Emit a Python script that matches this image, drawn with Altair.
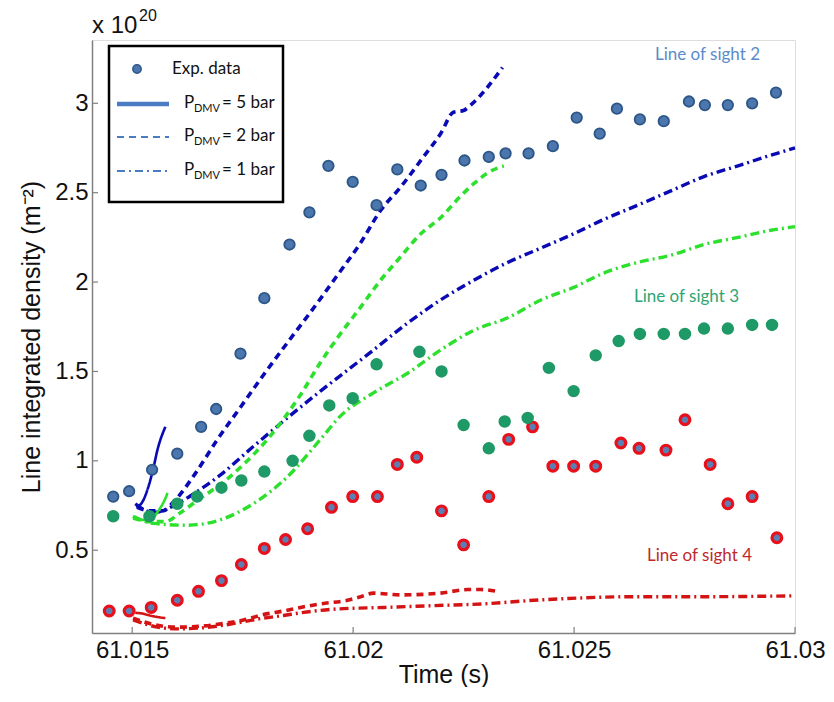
import altair as alt
import pandas as pd

# ---------------- experimental data (x 1e20 m^-2) ----------------
los2_t = [61.01457, 61.01493, 61.01545, 61.01602, 61.01656, 61.0169, 61.01745, 61.01799, 61.01856, 61.01901,
          61.01944, 61.01999, 61.02053, 61.021, 61.02153, 61.022, 61.02252, 61.02307, 61.02345, 61.02397,
          61.02452, 61.02506, 61.02558, 61.02597, 61.02649, 61.02703, 61.0276, 61.02796, 61.02848, 61.02903, 61.02957]
los2_y = [0.80, 0.83, 0.95, 1.04, 1.19, 1.29, 1.60, 1.91, 2.21, 2.39,
          2.65, 2.56, 2.43, 2.63, 2.54, 2.60, 2.68, 2.70, 2.72, 2.72,
          2.76, 2.92, 2.83, 2.97, 2.91, 2.90, 3.01, 2.99, 2.99, 3.00, 3.06]

los3_t = [61.01457, 61.01539, 61.01602, 61.01647, 61.01702, 61.01747, 61.01799, 61.01863, 61.01901, 61.01946,
          61.01999, 61.02053, 61.0215, 61.022, 61.0225, 61.02307, 61.02343, 61.02395, 61.02443, 61.02499,
          61.02549, 61.02601, 61.02649, 61.02703, 61.02751, 61.02794, 61.02848, 61.02903, 61.02948]
los3_y = [0.69, 0.69, 0.76, 0.80, 0.85, 0.89, 0.94, 1.00, 1.14, 1.31,
          1.35, 1.54, 1.61, 1.50, 1.20, 1.07, 1.22, 1.24, 1.52, 1.39,
          1.59, 1.67, 1.71, 1.71, 1.71, 1.74, 1.74, 1.76, 1.76]

los4_t = [61.01448, 61.01493, 61.01543, 61.01602, 61.0165, 61.01702, 61.01747, 61.01799, 61.01847, 61.01897,
          61.01951, 61.01999, 61.02055, 61.021, 61.02144, 61.022, 61.0225, 61.02307, 61.02352, 61.02406,
          61.02452, 61.02499, 61.02549, 61.02606, 61.02647, 61.02708, 61.02751, 61.02808, 61.02848, 61.02903, 61.02959]
los4_y = [0.16, 0.16, 0.18, 0.22, 0.27, 0.33, 0.42, 0.51, 0.56, 0.62,
          0.74, 0.80, 0.80, 0.98, 1.02, 0.72, 0.53, 0.80, 1.12, 1.19,
          0.97, 0.97, 0.97, 1.10, 1.07, 1.06, 1.23, 0.98, 0.76, 0.80, 0.57]

# ---------------- simulations ----------------
b5_t = [61.01509, 61.01523, 61.01536, 61.01548, 61.01557, 61.01575]
b5_y = [0.74, 0.77, 0.85, 0.96, 1.06, 1.19]
b2_t = [61.01511, 61.01541, 61.01568, 61.01597, 61.01643, 61.01693, 61.01745, 61.01797, 61.01851, 61.01897,
        61.01965, 61.02017, 61.02062, 61.02107, 61.02159, 61.02198, 61.02227, 61.0225, 61.02266, 61.02338]
b2_y = [0.74, 0.72, 0.72, 0.78, 0.93, 1.12, 1.30, 1.48, 1.66, 1.81,
        2.04, 2.22, 2.40, 2.53, 2.70, 2.83, 2.95, 2.96, 2.99, 3.20]
b1_t = [61.01507, 61.01548, 61.01609, 61.01654, 61.01699, 61.01774, 61.01851, 61.01926, 61.01994, 61.02046,
        61.02123, 61.02198, 61.02273, 61.0235, 61.02425, 61.02499, 61.02567, 61.02644, 61.02719, 61.02794,
        61.02871, 61.02946, 61.03]
b1_y = [0.76, 0.71, 0.77, 0.84, 0.92, 1.08, 1.24, 1.39, 1.52, 1.62,
        1.77, 1.90, 2.01, 2.11, 2.19, 2.27, 2.35, 2.43, 2.51, 2.59,
        2.65, 2.71, 2.75]

g5_t = [61.01502, 61.01518, 61.01541, 61.01559, 61.01575, 61.0158]
g5_y = [0.69, 0.67, 0.67, 0.72, 0.79, 0.82]
g2_t = [61.01502, 61.01541, 61.01575, 61.01609, 61.01654, 61.01706, 61.01752, 61.01806, 61.01881, 61.01926,
        61.01971, 61.02017, 61.02062, 61.02107, 61.02153, 61.02198, 61.02243, 61.02273, 61.02304, 61.02341]
g2_y = [0.68, 0.66, 0.66, 0.71, 0.79, 0.88, 0.98, 1.12, 1.37, 1.55,
        1.71, 1.86, 2.01, 2.14, 2.27, 2.36, 2.48, 2.55, 2.61, 2.65]
g1_t = [61.01502, 61.01548, 61.01625, 61.01699, 61.01774, 61.01851, 61.01926, 61.01971, 61.02046, 61.02123,
        61.02198, 61.02273, 61.0235, 61.02425, 61.02499, 61.02567, 61.02644, 61.02719, 61.02794, 61.02871,
        61.02946, 61.03]
g1_y = [0.69, 0.65, 0.64, 0.67, 0.76, 0.91, 1.12, 1.25, 1.38, 1.49,
        1.62, 1.73, 1.80, 1.90, 1.97, 2.05, 2.11, 2.15, 2.21, 2.25,
        2.29, 2.31]

r5_t = [61.01507, 61.01525, 61.0154, 61.01575]
r5_y = [0.15, 0.145, 0.135, 0.12]
r2_t = [61.01502, 61.01557, 61.01602, 61.01654, 61.01706, 61.01752, 61.01797, 61.01842, 61.01881, 61.01926,
        61.01987, 61.02017, 61.02046, 61.02107, 61.02198, 61.02259, 61.02289, 61.02327]
r2_y = [0.12, 0.08, 0.07, 0.075, 0.09, 0.11, 0.14, 0.16, 0.18, 0.20,
        0.22, 0.24, 0.26, 0.25, 0.26, 0.28, 0.28, 0.27]
r1_t = [61.01502, 61.01557, 61.01602, 61.01654, 61.01706, 61.01752, 61.01797, 61.01842, 61.01881, 61.01955,
        61.02069, 61.02182, 61.02295, 61.02409, 61.02486, 61.02635, 61.02787, 61.03]
r1_y = [0.11, 0.07, 0.06, 0.065, 0.08, 0.10, 0.12, 0.135, 0.15, 0.17,
        0.18, 0.19, 0.20, 0.22, 0.23, 0.24, 0.24, 0.245]

x_ticks = [61.015, 61.02, 61.025, 61.03]
y_ticks = [0.5, 1.0, 1.5, 2.0, 2.5, 3.0]

# ---------------- build tables ----------------
def pts(t, y, los):
    return pd.DataFrame({"t": t, "y": y, "los": los})

def line(t, y, los, p):
    return pd.DataFrame({"t": t, "y": y, "los": los, "p": p, "i": range(len(t))})

lines = pd.concat([
    line(b5_t, b5_y, "LOS2", "5 bar"), line(b2_t, b2_y, "LOS2", "2 bar"), line(b1_t, b1_y, "LOS2", "1 bar"),
    line(g5_t, g5_y, "LOS3", "5 bar"), line(g2_t, g2_y, "LOS3", "2 bar"), line(g1_t, g1_y, "LOS3", "1 bar"),
    line(r5_t, r5_y, "LOS4", "5 bar"), line(r2_t, r2_y, "LOS4", "2 bar"), line(r1_t, r1_y, "LOS4", "1 bar"),
])

W, H = 703, 593
FONT = "Liberation Sans"
LFONT = "Lato"

xs = alt.Scale(domain=[61.01409, 61.03], nice=False, zero=False)
ys = alt.Scale(domain=[0.037, 3.354], nice=False, zero=False)
col = alt.Scale(domain=["LOS2", "LOS3", "LOS4"], range=["#0a0ab4", "#2ee02e", "#d41414"])

X = alt.X("t:Q", scale=xs, axis=alt.Axis(
    values=x_ticks, format=".3~f", title="Time (s)", grid=False, tickSize=0,
    labelFont=FONT, labelFontSize=24, labelColor="#111", labelPadding=5,
    titleFont=FONT, titleFontSize=25, titleFontWeight="normal", titleColor="#111", titlePadding=0,
    domainColor="#808080", domainWidth=1.5, labelFlush=False))
Y = alt.Y("y:Q", scale=ys, axis=alt.Axis(
    values=y_ticks, format=".1~f", title="Line integrated density (m⁻²)", grid=False, tickSize=0,
    labelFont=FONT, labelFontSize=24, labelColor="#111", labelPadding=4,
    titleFont=FONT, titleFontSize=25, titleFontWeight="normal", titleColor="#111", titlePadding=10,
    domainColor="#808080", domainWidth=1.5))

layers = []
dash = {"5 bar": [1, 0], "2 bar": [7, 5], "1 bar": [9, 4, 2, 4]}
width = {"5 bar": 2.6, "2 bar": 3.6, "1 bar": 3.4}
for p in ["1 bar", "2 bar", "5 bar"]:
    layers.append(
        alt.Chart(lines[lines.p == p]).mark_line(strokeDash=dash[p], strokeWidth=width[p], interpolate="monotone")
        .encode(x=X, y=Y, color=alt.Color("los:N", scale=col, legend=None),
                detail="los:N", order="i:Q")
    )

layers.append(alt.Chart(pts(los4_t, los4_y, "LOS4")).mark_circle(
    size=95, fill="#5b7fb4", stroke="#e8101a", strokeWidth=3.2, opacity=1).encode(x=X, y=Y))
layers.append(alt.Chart(pts(los3_t, los3_y, "LOS3")).mark_circle(
    size=120, fill="#1e9a68", stroke="#1f9963", strokeWidth=1.5, opacity=1).encode(x=X, y=Y))
layers.append(alt.Chart(pts(los2_t, los2_y, "LOS2")).mark_circle(
    size=110, fill="#4b77ae", stroke="#2d5687", strokeWidth=1.8, opacity=1).encode(x=X, y=Y))

# inward ticks
layers.append(alt.Chart(pd.DataFrame({"y": y_ticks})).mark_rule(color="#808080", strokeWidth=1.2)
              .encode(y=alt.Y("y:Q", scale=ys), x=alt.value(0), x2=alt.value(6)))
layers.append(alt.Chart(pd.DataFrame({"t": x_ticks})).mark_rule(color="#808080", strokeWidth=1.2)
              .encode(x=alt.X("t:Q", scale=xs), y=alt.value(H), y2=alt.value(H - 6)))

one = alt.Data(values=[{"a": 1}])

def txt(s, x, y, size, color="#111", font=LFONT, align="left"):
    return alt.Chart(one).mark_text(align=align, baseline="middle", font=font, fontSize=size, color=color).encode(
        x=alt.value(x), y=alt.value(y), text=alt.value(s))

# exponent
layers.append(txt("x 10", 0, -14, 24, font=FONT))
layers.append(txt("20", 47, -24, 16, font=FONT))

# line-of-sight labels
layers.append(txt("Line of sight 2", 563, 15, 17, color="#5b8bc9"))
layers.append(txt("Line of sight 3", 542, 257, 17, color="#2ea572"))
layers.append(txt("Line of sight 4", 555, 516, 17, color="#c0282d"))

# legend box
layers.append(alt.Chart(one).mark_rect(fill="white", stroke="black", strokeWidth=2.5).encode(
    x=alt.value(17), x2=alt.value(191), y=alt.value(6), y2=alt.value(162)))
layers.append(alt.Chart(one).mark_circle(size=70, fill="#4b77ae", stroke="#2d5687", strokeWidth=1.5, opacity=1)
              .encode(x=alt.value(45), y=alt.value(29)))
layers.append(txt("Exp. data", 80, 29, 17))
leg_rows = [("5", 64, [1, 0], 4.5), ("2", 97, [7, 5], 2.2), ("1", 131, [8, 4, 2, 4], 2.2)]
for num, yy, d, w in leg_rows:
    layers.append(alt.Chart(one).mark_rule(color="#4a7cc4", strokeDash=d, strokeWidth=w).encode(
        x=alt.value(25), x2=alt.value(77), y=alt.value(yy)))
    layers.append(txt("P", 92, yy - 1, 17))
    layers.append(txt("DMV", 102, yy + 5, 11))
    layers.append(txt("= " + num + " bar", 130, yy - 1, 17))

chart = alt.layer(*layers).properties(
    width=W, height=H,
    autosize=alt.AutoSizeParams(type="none"),
    padding={"left": 84, "top": 32, "right": 30, "bottom": 54},
).configure_view(stroke=None).configure(background="white")

chart.save("out.html", embed_options={"renderer": "svg", "actions": False})
